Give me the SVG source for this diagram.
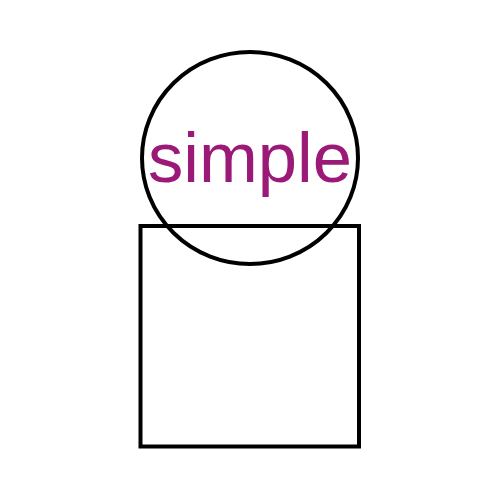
<svg xmlns="http://www.w3.org/2000/svg" width="500" height="500" viewBox="0 0 500 500">
<style>
.shape{fill:none;stroke:#000;stroke-width:4}
.lbl{font-family:"Liberation Sans","DejaVu Sans",sans-serif;font-size:70px;fill:#9b1a78;text-anchor:middle}
</style>
<rect width="500" height="500" fill="#fff"/>
<g id="circle-node">
<ellipse class="shape" cx="250" cy="158" rx="108" ry="106"/>
<text class="lbl" x="250" y="182" textLength="204" lengthAdjust="spacingAndGlyphs">simple</text>
</g>
<g id="square-node">
<rect class="shape" x="140.5" y="226" width="218.5" height="220.5"/>
</g>
<g id="connectors"></g>
</svg>
